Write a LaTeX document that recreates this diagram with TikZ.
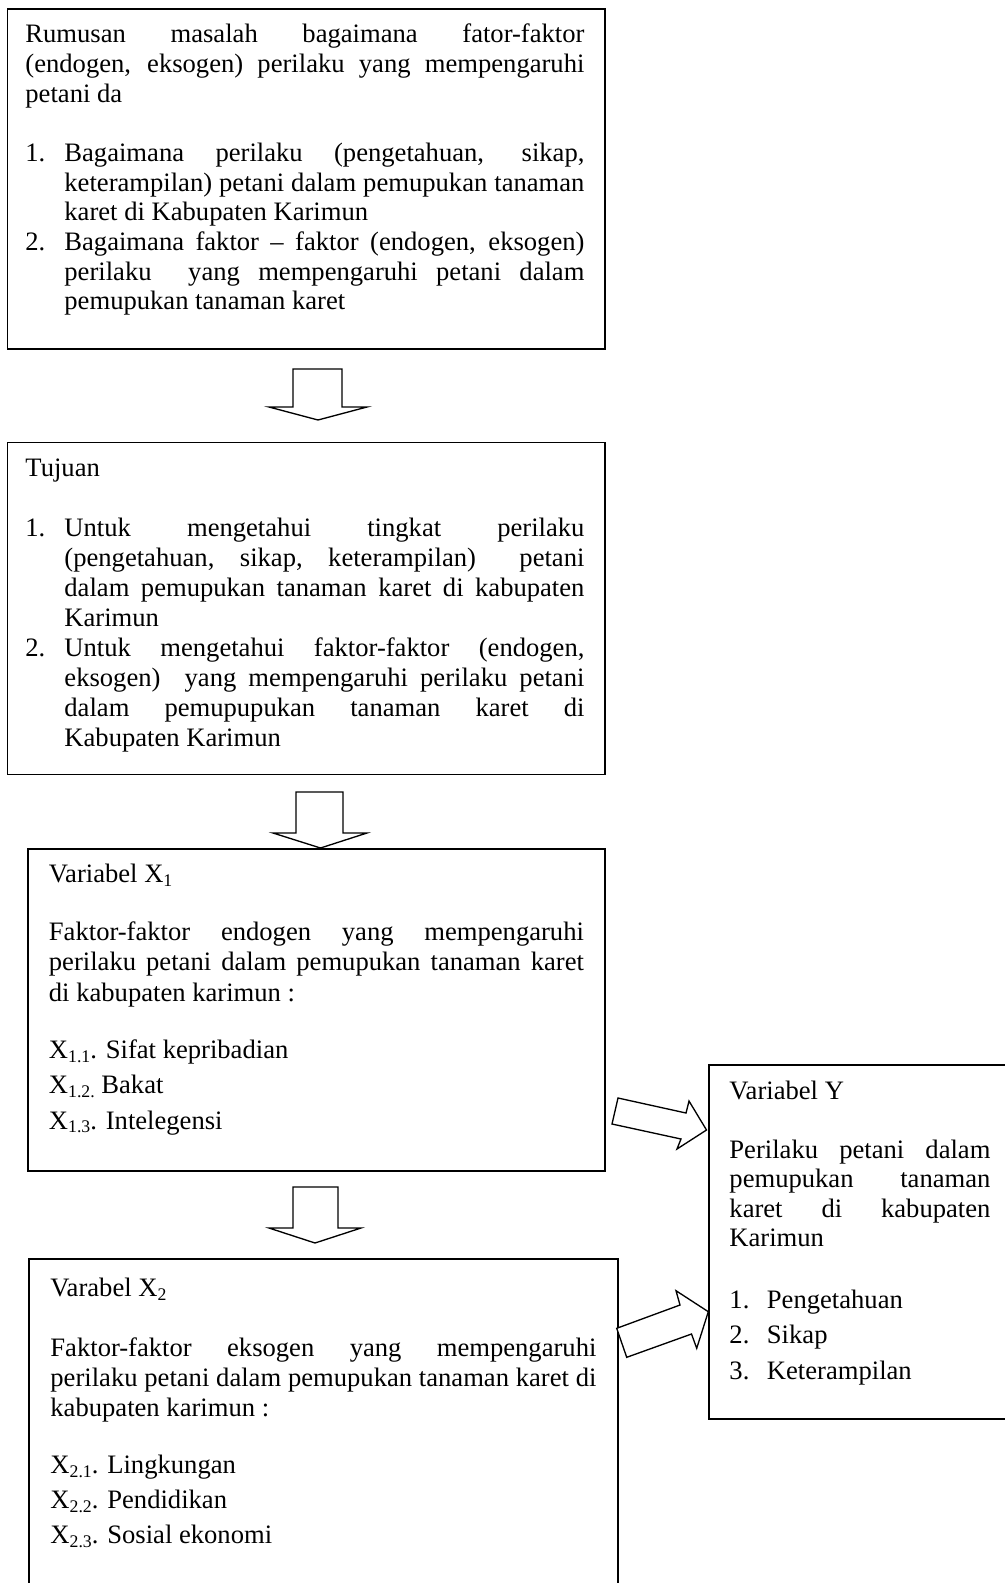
\documentclass[tikz,border=0pt]{standalone}
\usepackage{fontspec}
\setmainfont{Liberation Serif}
\newlength\pxu
\setlength\pxu{0.451pt}
\newcommand\lowsub[1]{\raisebox{-1.8pt}{\fontsize{8pt}{8pt}\selectfont #1}}
\newcommand\jline[2]{\makebox[#1\pxu][s]{#2}}
\newcommand\numl[3]{\makebox[39\pxu][l]{#1}\makebox[#2\pxu][s]{#3}}
\newcommand\hang{\hspace*{39\pxu}}
\newcommand\boxtext[3]{\parbox[t]{#1\pxu}{\fontsize{12pt}{#2\pxu}\selectfont\lineskiplimit=-100pt\relax #3}}
\begin{document}
\begin{tikzpicture}[x=0.451pt,y=-0.451pt,
  frame/.style={draw=black, line width=0.8pt, rectangle, inner sep=0pt, anchor=north west},
  txt/.style={anchor=base west, inner sep=0pt, text=black},
  blk/.style={draw=black, line width=0.6pt, fill=white, line join=miter}]
\useasboundingbox (0,0) rectangle (1004,1583);
\fill[white] (0,0) rectangle (1004,1583);

% boxes
\node[frame, minimum width=597.5\pxu, minimum height=340\pxu] (b1) at (6.5,8) {};
\node[frame, minimum width=597.5\pxu, minimum height=332\pxu] (b2) at (6.5,441.5) {};
\node[frame, minimum width=577\pxu, minimum height=322\pxu] (b3) at (27,848) {};
\node[frame, minimum width=589\pxu, minimum height=360\pxu] (b4) at (28,1258) {};
\node[frame, minimum width=310\pxu, minimum height=354\pxu] (by) at (708,1064) {};

% texts
\node[txt] (t1) at (25,42.7) {\boxtext{559}{29.7}{%
\jline{559}{Rumusan masalah bagaimana fator-faktor}\\
\jline{559}{(endogen, eksogen) perilaku yang mempengaruhi}\\
petani da\\[29.7\pxu]
\numl{1.}{520}{Bagaimana perilaku (pengetahuan, sikap,}\\
\hang\jline{520}{keterampilan) petani dalam pemupukan tanaman}\\
\hang karet di Kabupaten Karimun\\
\numl{2.}{520}{Bagaimana faktor – faktor (endogen, eksogen)}\\
\hang\jline{520}{perilaku\ \ yang mempengaruhi petani dalam}\\
\hang pemupukan tanaman karet}};

\node[txt] (t2) at (25,476.5) {\boxtext{559}{30}{%
Tujuan\\[30\pxu]
\numl{1.}{520}{Untuk mengetahui tingkat perilaku}\\
\hang\jline{520}{(pengetahuan, sikap, keterampilan)\ \ petani}\\
\hang\jline{520}{dalam pemupukan tanaman karet di kabupaten}\\
\hang Karimun\\
\numl{2.}{520}{Untuk mengetahui faktor-faktor (endogen,}\\
\hang\jline{520}{eksogen)\ \ yang mempengaruhi perilaku petani}\\
\hang\jline{520}{dalam pemupupukan tanaman karet di}\\
\hang Kabupaten Karimun}};

\node[txt] (t3) at (48.5,882.5) {\boxtext{535}{30.5}{%
Variabel X\lowsub{1}\\[27\pxu]
\jline{535}{Faktor-faktor endogen yang mempengaruhi}\\
\jline{535}{perilaku petani dalam pemupukan tanaman karet}\\
di kabupaten karimun :\\[26.5\pxu]
X\lowsub{1.1}. Sifat kepribadian\\[5\pxu]
X\lowsub{1.2.} Bakat\\[5\pxu]
X\lowsub{1.3}. Intelegensi}};

\node[txt] (t4) at (50,1296.7) {\boxtext{546}{30}{%
Varabel X\lowsub{2}\\[30\pxu]
\jline{546}{Faktor-faktor eksogen yang mempengaruhi}\\
\jline{546}{perilaku petani dalam pemupukan tanaman karet di}\\
kabupaten karimun :\\[26.3\pxu]
X\lowsub{2.1}. Lingkungan\\[5\pxu]
X\lowsub{2.2}. Pendidikan\\[5\pxu]
X\lowsub{2.3}. Sosial ekonomi}};

\node[txt] (ty) at (729,1099) {\boxtext{261}{29.5}{%
Variabel Y\\[29.5\pxu]
\jline{261}{Perilaku petani dalam}\\
\jline{261}{pemupukan tanaman}\\
\jline{261}{karet di kabupaten}\\
Karimun\\[32\pxu]
\makebox[37.5\pxu][l]{1.}Pengetahuan\\[6\pxu]
\makebox[37.5\pxu][l]{2.}Sikap\\[6\pxu]
\makebox[37.5\pxu][l]{3.}Keterampilan}};

% block arrows
\draw[blk] (293,369) -- (342,369) -- (342,407) -- (367,407) -- (318,420) -- (269,407) -- (293,407) -- cycle;
\draw[blk] (296,792) -- (343,792) -- (343,833) -- (367,833) -- (320.5,848) -- (273,833) -- (296,833) -- cycle;
\draw[blk] (293,1187) -- (338,1187) -- (338,1228) -- (361,1228) -- (315,1243) -- (269,1228) -- (293,1228) -- cycle;
\draw[blk] (618,1098) -- (686,1113) -- (689,1101) -- (706.5,1130) -- (677,1149) -- (681,1139) -- (612,1124) -- cycle;
\draw[blk] (616.7,1328.3) -- (680,1305) -- (676,1290.7) -- (708.3,1311.7) -- (696.7,1348.3) -- (691.5,1334) -- (626.7,1357.3) -- cycle;
\end{tikzpicture}
\end{document}
